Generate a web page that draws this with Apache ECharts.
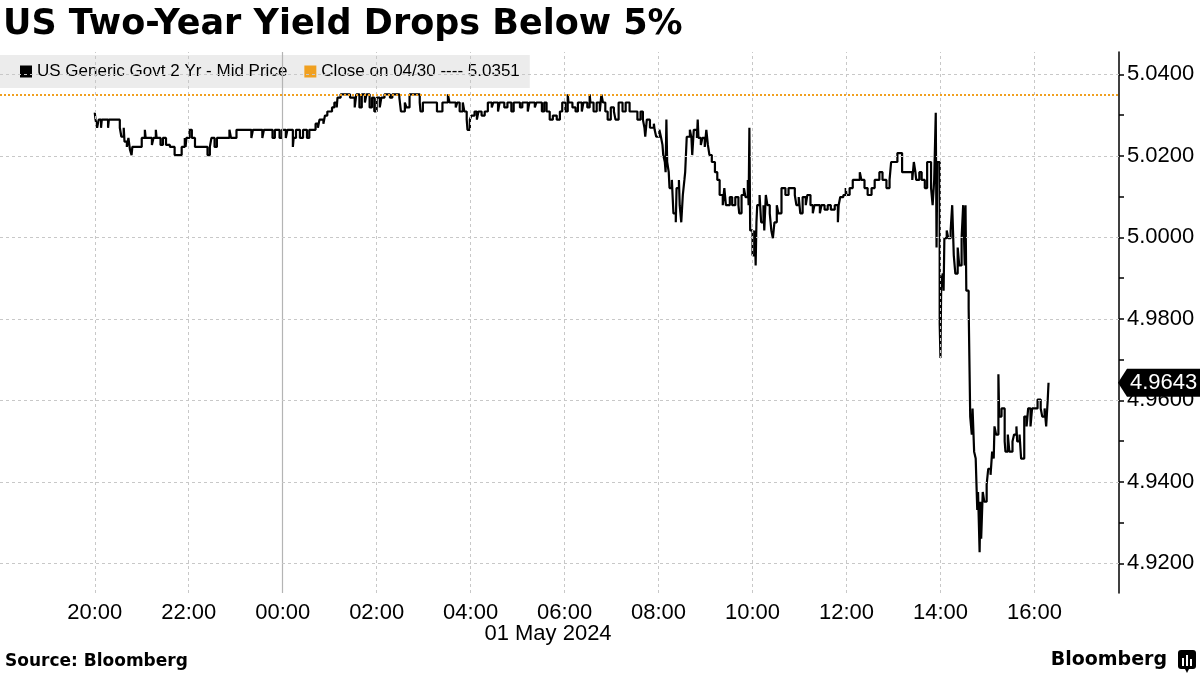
<!DOCTYPE html>
<html><head><meta charset="utf-8">
<script src="https://cdn.jsdelivr.net/npm/echarts@6/dist/echarts.min.js"></script>
<style>html,body{margin:0;padding:0;background:#fff}#c{width:1200px;height:675px}</style>
</head><body><div id="c"></div>
<script>
// ---- data ----
const times = [
'20:00','20:01','20:03','20:05','20:08','20:09','20:17','20:18','20:32','20:34','20:37','20:38','20:41','20:43','20:45','20:47','20:48',
'21:00','21:04','21:05','21:13','21:15','21:18','21:19','21:24','21:27','21:31','21:36','21:42','21:51','21:55','21:56','21:57',
'22:01','22:04','22:08','22:24','22:27','22:29','22:33','22:36','22:52','22:54',
'23:01','23:20','23:22','23:34','23:36','23:47','23:50','23:56','23:59',
'00:04','00:06','00:13','00:14','00:17','00:22','00:26','00:31','00:34','00:42','00:45','00:47','00:52','00:54','00:57',
'01:03','01:06','01:09','01:10','01:14','01:26','01:32','01:34','01:38','01:41','01:45','01:47','01:51','01:54','01:57',
'02:00','02:04','02:06','02:10','02:17','02:20','02:29','02:31','02:36','02:38','02:42','02:55','02:56','02:59',
'03:17','03:24','03:31','03:33','03:41','03:43','03:46','03:50','03:52','03:55','03:56','03:59',
'04:01','04:05','04:08','04:10','04:14','04:18','04:22','04:27','04:29','04:35','04:37','04:43','04:47','04:52','04:55',
'05:03','05:06','05:13','05:15','05:22','05:24','05:31','05:34','05:37','05:41','05:45','05:50','05:54','05:57',
'06:01','06:04','06:05','06:10','06:14','06:17','06:22','06:24','06:29','06:32','06:33','06:37','06:41','06:45','06:47','06:49','06:52','06:55','06:59',
'07:03','07:05','07:09','07:14','07:18','07:23','07:33','07:37','07:40','07:42','07:43','07:45','07:49','07:54','07:55','07:57',
'08:01','08:03','08:05','08:06','08:08','08:09','08:10','08:11','08:13','08:14','08:17','08:18','08:19','08:22','08:23','08:26','08:27','08:29','08:31','08:33','08:34','08:36','08:40','08:42','08:43','08:45','08:49','08:50','08:51','08:54','08:56','08:59',
'09:01','09:03','09:05','09:08','09:12','09:15','09:18','09:22','09:24','09:26','09:31','09:34','09:38','09:42','09:43','09:46','09:49','09:51','09:54','09:55','09:56','09:57',
'10:00','10:03','10:04','10:05','10:06','10:09','10:11','10:14','10:15','10:17','10:19','10:22','10:24','10:26','10:28','10:31','10:33','10:37','10:42','10:46','10:54','10:56','10:59',
'11:01','11:04','11:08','11:10','11:14','11:17','11:19','11:26','11:28','11:32','11:36','11:40','11:45','11:49','11:50','11:52','11:56','11:59',
'12:00','12:04','12:08','12:17','12:19','12:23','12:27','12:32','12:36','12:42','12:46','12:51','12:55','12:57',
'13:05','13:11','13:24','13:26','13:28','13:29','13:33','13:36','13:40','13:43','13:48','13:50','13:52','13:54','13:55','13:56','13:59',
'14:00','14:01','14:03','14:04','14:05','14:08','14:10','14:13','14:15','14:17','14:19','14:22','14:24','14:27','14:29','14:31','14:32','14:33','14:36','14:38','14:40','14:41','14:43','14:45','14:46','14:47','14:48','14:50','14:51','14:52','14:54','14:56','14:59',
'15:01','15:04','15:06','15:08','15:09','15:11','15:14','15:15','15:18','15:22','15:23','15:26','15:28','15:32','15:34','15:37','15:38','15:41','15:43','15:47','15:50','15:52','15:55','15:57',
'16:04','16:08','16:10','16:13','16:15','16:17','16:18'
];
const yields = [
5.0306,5.0289,5.0269,5.0289,5.0269,5.0289,5.0269,5.0289,5.0269,5.0247,5.0269,5.0235,5.0222,5.0244,5.0215,5.0202,5.0222,
5.0244,5.0264,5.0244,5.0227,5.0244,5.0264,5.0244,5.0227,5.0244,5.0227,5.0222,5.0202,5.0222,5.0244,5.0222,5.0244,
5.0264,5.0244,5.0222,5.0202,5.0222,5.0244,5.0222,5.0244,5.0264,5.0244,
5.0264,5.0244,5.0264,5.0244,5.0264,5.0244,5.0264,5.0244,5.0264,
5.0244,5.0264,5.0222,5.0244,5.0264,5.0244,5.0264,5.0244,5.0264,5.0279,5.0269,5.0289,5.0279,5.0299,5.0309,
5.0319,5.0331,5.0319,5.0343,5.0351,5.0343,5.0319,5.0351,5.0319,5.0351,5.0331,5.0351,5.0319,5.0343,5.0309,
5.0343,5.0319,5.0343,5.0351,5.0343,5.0351,5.0343,5.0309,5.0331,5.0319,5.0351,5.0331,5.0309,5.0331,
5.0309,5.0331,5.0351,5.0331,5.0319,5.0331,5.0309,5.0331,5.0309,5.0289,5.0264,5.0289,
5.0299,5.0309,5.0289,5.0309,5.0299,5.0309,5.0331,5.0319,5.0331,5.0309,5.0331,5.0319,5.0331,5.0309,5.0331,
5.0319,5.0331,5.0309,5.0331,5.0319,5.0331,5.0309,5.0331,5.0309,5.0289,5.0299,5.0289,5.0309,5.0331,
5.0309,5.0351,5.0331,5.0319,5.0309,5.0331,5.0309,5.0331,5.0319,5.0351,5.0331,5.0309,5.0331,5.0309,5.0351,5.0331,5.0309,5.0289,5.0319,
5.0309,5.0289,5.0331,5.0309,5.0331,5.0309,5.0289,5.0309,5.0289,5.0269,5.0247,5.0289,5.0269,5.0279,5.0264,5.0247,
5.0264,5.0247,5.0227,5.0202,5.0185,5.0160,5.0289,5.0185,5.0160,5.0121,5.0141,5.0099,5.0059,5.0037,5.0121,5.0141,5.0079,5.0037,5.0104,5.0141,5.0160,5.0247,5.0264,5.0244,5.0202,5.0264,5.0244,5.0289,5.0244,5.0227,5.0244,5.0222,
5.0264,5.0227,5.0202,5.0185,5.0160,5.0141,5.0104,5.0079,5.0121,5.0079,5.0099,5.0079,5.0099,5.0079,5.0059,5.0104,5.0121,5.0099,5.0141,5.0079,5.0269,5.0017,
4.9956,5.0017,4.9931,5.0037,5.0079,5.0104,5.0037,5.0079,5.0017,5.0104,5.0079,5.0059,5.0017,4.9998,5.0037,5.0079,5.0059,5.0121,5.0104,5.0121,5.0104,5.0079,5.0099,
5.0059,5.0099,5.0079,5.0104,5.0079,5.0059,5.0079,5.0059,5.0079,5.0068,5.0079,5.0068,5.0079,5.0037,5.0079,5.0099,5.0104,5.0121,
5.0104,5.0121,5.0141,5.0160,5.0141,5.0121,5.0104,5.0121,5.0141,5.0160,5.0141,5.0121,5.0141,5.0185,
5.0207,5.0160,5.0141,5.0185,5.0160,5.0141,5.0160,5.0141,5.0121,5.0185,5.0121,5.0079,5.0141,5.0306,4.9975,5.0185,4.9788,
4.9704,4.9894,4.9911,4.9869,4.9998,5.0017,4.9998,5.0017,5.0079,4.9956,4.9911,4.9975,4.9931,4.9998,5.0079,4.9931,5.0079,4.9869,4.9827,4.9560,4.9516,4.9580,4.9474,4.9457,4.9393,4.9331,4.9375,4.9227,4.9351,4.9260,4.9375,4.9351,4.9393,
4.9432,4.9417,4.9474,4.9457,4.9536,4.9516,4.9664,4.9560,4.9580,4.9499,4.9474,4.9516,4.9474,4.9499,4.9516,4.9536,4.9499,4.9516,4.9457,4.9560,4.9536,4.9580,4.9536,4.9580,
4.9602,4.9580,4.9560,4.9580,4.9536,4.9602,4.9643
];
const xTickTimes = ['20:00','22:00','00:00','02:00','04:00','06:00','08:00','10:00','12:00','14:00','16:00'];
const yTickLabels = [4.92,4.94,4.96,4.98,5.00,5.02,5.04];
const yMinorTicks = [4.92,4.93,4.94,4.95,4.96,4.97,4.98,4.99,5.00,5.01,5.02,5.03,5.04];
const dayBreak = '00:00';
const dateLabel = '01 May 2024';
const prevClose = 5.0351;
const lastValue = 4.9643;
const seriesName = 'US Generic Govt 2 Yr - Mid Price';
const closeName = 'Close on 04/30 ---- 5.0351';
const titleText = 'US Two-Year Yield Drops Below 5%';
const sourceText = 'Source: Bloomberg';

// minutes since 20:00 on 30 Apr
function toMin(t){ const p=t.split(':').map(Number); const v=p[0]*60+p[1]; return p[0]>=20 ? v-1200 : v+240; }
function fmtMin(m){ const t=((1200+m)%1440+1440)%1440; const h=Math.floor(t/60), mm=Math.round(t%60); return (h<10?'0':'')+h+':'+(mm<10?'0':'')+mm; }

const chart = echarts.init(document.getElementById('c'), null, {renderer:'canvas'});
const gridLineStyle = {color:'#c8c8c8', type:[3,3], width:1};
const vLines = xTickTimes.filter(t=>t!==dayBreak).map(t=>({xAxis:toMin(t), lineStyle:gridLineStyle}));
vLines.push({xAxis:toMin(dayBreak), lineStyle:{color:'#b4b4b4', type:'solid', width:1.2}});
const hLines = yTickLabels.map(v=>({yAxis:v, lineStyle:gridLineStyle}));
const orange = '#f0a020';

const option = {
  animation:false,
  backgroundColor:'#fff',
  grid:{left:0, right:81, top:52, bottom:82, containLabel:false},
  legend:{
    data:[seriesName, closeName], left:0, top:55,
    backgroundColor:'#ececec', padding:[8,10,8,20], itemWidth:12, itemHeight:12, itemGap:17,
    icon:'rect', textStyle:{fontSize:17, fontFamily:'Liberation Sans', color:'#000'},
    selectedMode:false
  },
  xAxis:{
    type:'value', min:-121, max:1308,
    axisLine:{show:false}, axisTick:{show:false}, splitLine:{show:false},
    axisLabel:{customValues:xTickTimes.map(toMin), formatter:v=>fmtMin(v), fontSize:22, fontFamily:'Liberation Sans', color:'#000', margin:9}
  },
  yAxis:{
    type:'value', position:'right', min:4.9127, max:5.0455,
    axisLine:{show:true, onZero:false, lineStyle:{color:'#000', width:1.5}},
    axisTick:{show:true, customValues:yMinorTicks, length:5, lineStyle:{color:'#000', width:1.5}},
    axisLabel:{customValues:yTickLabels, formatter:v=>v.toFixed(4), fontSize:22, fontFamily:'Liberation Sans', color:'#000', margin:8},
    splitLine:{show:false}
  },
  series:[
    {name:'grid', type:'line', data:[], z:1, silent:true,
      markLine:{silent:true, precision:4, symbol:['none','none'], label:{show:false}, animation:false, data:vLines.concat(hLines)}},
    {name:closeName, type:'line', data:[], z:2, itemStyle:{color:orange}, lineStyle:{color:orange},
      markLine:{silent:true, precision:4, symbol:['none','none'], label:{show:false}, animation:false,
        lineStyle:{color:orange, type:[2,2], width:2}, data:[{yAxis:prevClose}]}},
    {name:seriesName, type:'line', step:'end', showSymbol:false, z:3,
      itemStyle:{color:'#000'}, lineStyle:{color:'#000', width:2.2},
      data:times.map((t,i)=>[toMin(t), yields[i]])}
  ]
};
chart.setOption(option);

const py = chart.convertToPixel({yAxisIndex:0}, lastValue);
const ax = 1119;
chart.setOption({graphic:[
  {type:'text', left:3, top:7, style:{text:titleText, font:'bold 35px "DejaVu Sans"', fill:'#000'}},
  {type:'group', left:8, top:64, children:[
    {type:'rect', shape:{x:0,y:0,width:7,height:7}, style:{fill:'none', stroke:'#777', lineWidth:1}},
    {type:'line', shape:{x1:1.5,y1:3.5,x2:5.5,y2:3.5}, style:{stroke:'#777', lineWidth:1}},
    {type:'line', shape:{x1:3.5,y1:7,x2:3.5,y2:12}, style:{stroke:'#777', lineWidth:1}}
  ]},
  {type:'polygon', shape:{points:[[ax-1,py],[ax+8,py-14],[1200,py-14],[1200,py+14],[ax+8,py+14]]}, style:{fill:'#000'}, z:100},
  {type:'text', x:1130, y:py, style:{text:lastValue.toFixed(4), font:'22px "Liberation Sans"', fill:'#fff', textVerticalAlign:'middle'}, z:101},
  {type:'text', x:548, y:634, style:{text:dateLabel, font:'22px "Liberation Sans"', fill:'#000', textAlign:'center', textVerticalAlign:'middle'}},
  {type:'text', x:5, y:662, style:{text:sourceText, font:'bold 17px "DejaVu Sans"', fill:'#000', textVerticalAlign:'middle'}},
  {type:'text', x:1167, y:660, style:{text:'Bloomberg', font:'bold 19px "DejaVu Sans"', fill:'#000', textAlign:'right', textVerticalAlign:'middle'}},
  {type:'group', x:1178, y:650, children:[
    {type:'rect', shape:{x:0,y:0,width:18,height:19,r:3}, style:{fill:'#000'}},
    {type:'polygon', shape:{points:[[7,19],[11,19],[9,23]]}, style:{fill:'#000'}},
    {type:'rect', shape:{x:4,y:8,width:2,height:8}, style:{fill:'#fff'}},
    {type:'rect', shape:{x:8,y:5,width:2,height:11}, style:{fill:'#fff'}},
    {type:'rect', shape:{x:12,y:9,width:2,height:7}, style:{fill:'#fff'}}
  ]}
]});
</script></body></html>
